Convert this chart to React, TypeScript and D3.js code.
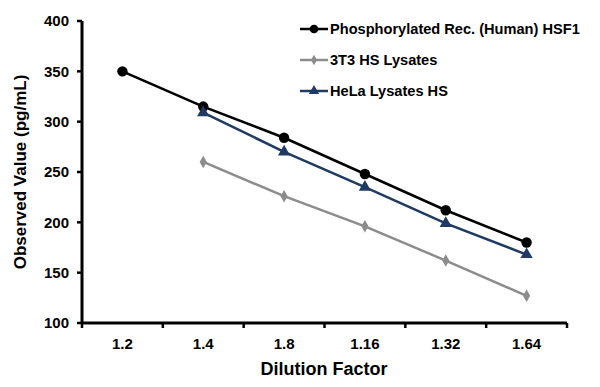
import React, { useEffect, useRef } from 'react';
import * as d3 from 'd3';

const categories = ['1.2', '1.4', '1.8', '1.16', '1.32', '1.64'];
const hsf1Values = [350, 315, 284, 248, 212, 180];
const t3Values = [null, 260, 226, 196, 162, 127];
const helaValues = [null, 309, 270, 235, 199, 168];
const yTicks = [100, 150, 200, 250, 300, 350, 400];

const series = [
  { name: 'Phosphorylated Rec. (Human) HSF1', values: hsf1Values, color: '#000000', symbol: d3.symbolCircle, size: 85 },
  { name: '3T3 HS Lysates', values: t3Values, color: '#8c8c8c', symbol: d3.symbolDiamond, size: 45 },
  { name: 'HeLa Lysates HS', values: helaValues, color: '#1f3a63', symbol: d3.symbolTriangle, size: 65 },
];

export default function App() {
  const ref = useRef<SVGSVGElement>(null);

  useEffect(() => {
    const width = 600;
    const margin = { top: 21, right: 33, bottom: 64, left: 82 };
    const svg = d3.select(ref.current);
    svg.selectAll('*').remove();
    const font = 'Liberation Sans, Arial, sans-serif';

    const x = d3.scaleBand().domain(categories).range([margin.left, width - margin.right]);
    const y = d3.scaleLinear().domain([100, 400]).range([323, margin.top]);

    // axes
    const g = svg.append('g');
    g.append('line').attr('x1', margin.left).attr('x2', margin.left).attr('y1', y(400)).attr('y2', y(100) + 1)
      .attr('stroke', '#000').attr('stroke-width', 3);
    g.append('line').attr('x1', margin.left - 1).attr('x2', width - margin.right).attr('y1', y(100)).attr('y2', y(100))
      .attr('stroke', '#000').attr('stroke-width', 3);

    yTicks.forEach(t => {
      g.append('line').attr('x1', margin.left - 5).attr('x2', margin.left).attr('y1', y(t)).attr('y2', y(t))
        .attr('stroke', '#000').attr('stroke-width', 2.5);
      g.append('text').attr('x', margin.left - 13).attr('y', y(t)).attr('dy', '0.35em')
        .attr('text-anchor', 'end').style('font-family', font).style('font-weight', 'bold').style('font-size', '15px')
        .text(t);
    });

    const bounds = categories.map(c => x(c) as number).concat([width - margin.right]);
    bounds.forEach(b => {
      g.append('line').attr('x1', b).attr('x2', b).attr('y1', y(100)).attr('y2', y(100) + 5)
        .attr('stroke', '#000').attr('stroke-width', 2.5);
    });
    categories.forEach(c => {
      g.append('text').attr('x', (x(c) as number) + x.bandwidth() / 2).attr('y', 349)
        .attr('text-anchor', 'middle').style('font-family', font).style('font-weight', 'bold').style('font-size', '15px')
        .text(c);
    });

    g.append('text').attr('x', 324).attr('y', 375).attr('text-anchor', 'middle')
      .style('font-family', font).style('font-weight', 'bold').style('font-size', '18px').text('Dilution Factor');
    g.append('text').attr('transform', 'translate(26,172) rotate(-90)').attr('text-anchor', 'middle')
      .style('font-family', font).style('font-weight', 'bold').style('font-size', '17px').text('Observed Value (pg/mL)');

    const cx = (i: number) => (x(categories[i]) as number) + x.bandwidth() / 2;

    series.forEach(s => {
      const pts = s.values.map((v, i) => ({ v, i })).filter(d => d.v != null) as { v: number; i: number }[];
      const line = d3.line<{ v: number; i: number }>().x(d => cx(d.i)).y(d => y(d.v));
      svg.append('path').attr('d', line(pts)).attr('fill', 'none').attr('stroke', s.color).attr('stroke-width', 2.5);
      svg.selectAll(null).data(pts).join('path')
        .attr('d', d3.symbol().type(s.symbol).size(s.size)())
        .attr('transform', d => `translate(${cx(d.i)},${y(d.v)})`)
        .attr('fill', s.color);
    });

    // legend
    series.forEach((s, i) => {
      const ly = 29 + i * 31;
      svg.append('line').attr('x1', 300).attr('x2', 328).attr('y1', ly).attr('y2', ly)
        .attr('stroke', s.color).attr('stroke-width', 2.5);
      svg.append('path').attr('d', d3.symbol().type(s.symbol).size(s.size * 0.7)())
        .attr('transform', `translate(314,${ly})`).attr('fill', s.color);
      svg.append('text').attr('x', 330).attr('y', ly).attr('dy', '0.35em')
        .style('font-family', font).style('font-weight', 'bold').style('font-size', '14.6px').text(s.name);
    });
  }, []);

  return (
    <svg ref={ref} width={600} height={387} style={{ position: 'absolute', left: 0, top: 0, background: '#fff' }} />
  );
}
